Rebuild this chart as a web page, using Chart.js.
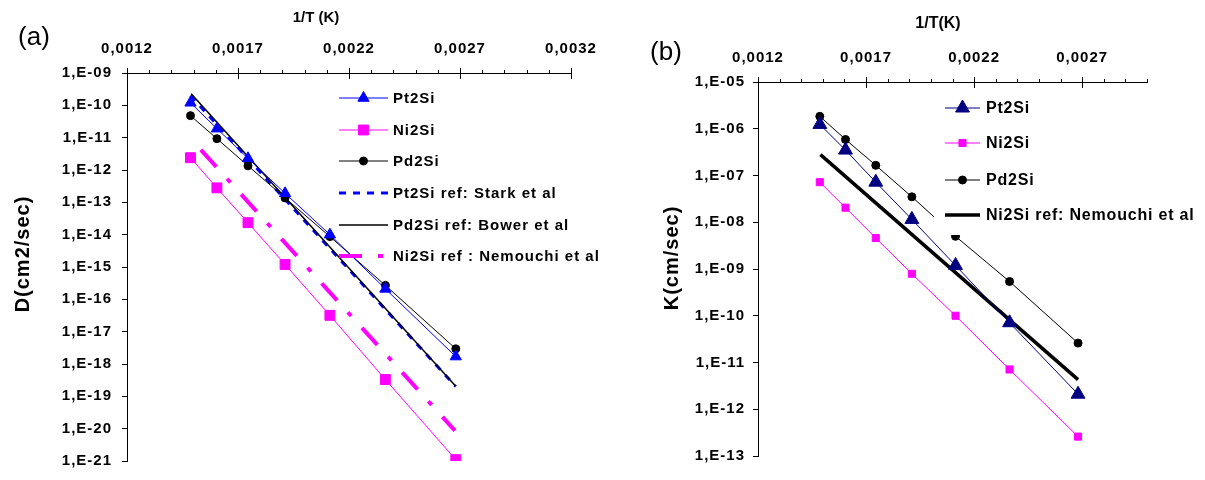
<!DOCTYPE html>
<html>
<head>
<meta charset="utf-8">
<script src="https://cdn.jsdelivr.net/npm/chart.js@4.4.1/dist/chart.umd.min.js"></script>
<style>
  html, body { margin: 0; padding: 0; background: #fff; }
  #chartA { position: absolute; left: 0; top: 0; }
  #chartB { position: absolute; left: 620px; top: 0; }
</style>
</head>
<body>
<canvas id="chartA" width="620" height="480"></canvas>
<canvas id="chartB" width="585" height="480"></canvas>
<script>
// 1/T (1/K) for 400, 350, 300, 250, 200, 150 and 100 C
const invT = [0.001486, 0.001605, 0.001745, 0.001912, 0.002114, 0.002364, 0.002681];

// (a) D (cm2/sec)
const dPt2Si = [1.2e-10, 1.9e-11, 2.3e-12, 1.9e-13, 1.0e-14, 2.1e-16, 1.7e-18];
const dNi2Si = [2.4e-12, 2.8e-13, 2.35e-14, 1.2e-15, 3.2e-17, 3.3e-19, 1.1e-21];
const dPd2Si = [4.8e-11, 9.3e-12, 1.35e-12, 1.37e-13, 8.7e-15, 2.7e-16, 2.95e-18];
// literature lines (a): [start, end]
const starkX = [0.001486, 0.002681];
const starkD = [2.0e-10, 2.0e-19];
const bowerX = [0.001489, 0.002680];
const bowerD = [2.3e-10, 2.07e-19];
const nemouchiAX = [0.001533, 0.002677];
const nemouchiAD = [4.2e-12, 8.7e-21];

// (b) K (cm/sec)
const kPt2Si = [1.24e-6, 3.5e-7, 7.2e-8, 1.15e-8, 1.19e-9, 7.1e-11, 2.1e-12];
const kNi2Si = [7.2e-8, 2.05e-8, 4.6e-9, 7.9e-10, 1.0e-10, 7.1e-12, 2.6e-13];
const kPd2Si = [1.84e-6, 5.9e-7, 1.65e-7, 3.5e-8, 5.0e-9, 5.4e-10, 2.6e-11];
const nemouchiBX = [0.001489, 0.002681];
const nemouchiBK = [2.8e-7, 4.3e-12];

// axis ticks
const xTicksA = [0.0012, 0.0017, 0.0022, 0.0027, 0.0032];
const xTicksB = [0.0012, 0.0017, 0.0022, 0.0027];
const yTicksA = [1e-9, 1e-10, 1e-11, 1e-12, 1e-13, 1e-14, 1e-15, 1e-16, 1e-17, 1e-18, 1e-19, 1e-20, 1e-21];
const yTicksB = [1e-5, 1e-6, 1e-7, 1e-8, 1e-9, 1e-10, 1e-11, 1e-12, 1e-13];

Chart.defaults.font.family = 'Arial, "Liberation Sans", sans-serif';
Chart.defaults.color = '#000';

const pts = (xs, ys) => xs.map((x, i) => ({ x: x, y: ys[i] }));
const fmtX = v => v.toFixed(4).replace('.', ',');
const fmtY = v => {
  const e = Math.round(Math.log10(v));
  return '1,E' + (e < 0 ? '-' : '+') + String(Math.abs(e)).padStart(2, '0');
};

function makeScales(o) {
  return {
    x: {
      type: 'linear', position: 'top', min: o.xMin, max: o.xMax,
      afterBuildTicks: axis => { axis.ticks = o.xTicks.map(v => ({ value: v })); },
      afterFit: s => { s.height = o.top; },
      grid: { drawOnChartArea: false, tickLength: 5, color: '#000' },
      border: { display: true, color: '#000', width: 1 },
      ticks: { padding: 10, autoSkip: false, maxRotation: 0,
               font: { size: 15, weight: 'bold' }, callback: v => fmtX(v) }
    },
    y: {
      type: 'logarithmic', position: 'left', min: o.yMin, max: o.yMax,
      afterBuildTicks: axis => { axis.ticks = o.yTicks.map(v => ({ value: v })); },
      afterFit: s => { s.width = o.left; },
      grid: { drawOnChartArea: false, tickLength: 5, color: '#000' },
      border: { display: true, color: '#000', width: 1 },
      ticks: { padding: o.yPad, autoSkip: false,
               font: { size: 15, weight: 'bold' }, callback: v => fmtY(v) }
    }
  };
}

// minor ticks above the top axis, major ticks crossing it
const tickMarks = {
  id: 'tickMarks',
  beforeDraw(chart) { chart.ctx.letterSpacing = '1px'; },
  afterDraw(chart) {
    const ctx = chart.ctx, x = chart.scales.x, top = chart.chartArea.top;
    const n = Math.round((x.max - x.min) / 0.0001);
    ctx.save();
    ctx.strokeStyle = '#000';
    ctx.lineWidth = 1;
    ctx.beginPath();
    for (let i = 1; i <= n; i++) {
      const px = Math.round(x.getPixelForValue(x.min + i * 0.0001)) + 0.5;
      ctx.moveTo(px, top);
      ctx.lineTo(px, top - 3);
    }
    x.ticks.forEach(t => {
      if (t.value <= x.min) return;
      const px = Math.round(x.getPixelForValue(t.value)) + 0.5;
      ctx.moveTo(px, top);
      ctx.lineTo(px, top + 6);
    });
    ctx.stroke();
    ctx.restore();
  }
};

// panel letter and axis titles
const labels = {
  id: 'labels',
  afterDraw(chart, args, o) {
    const ctx = chart.ctx;
    ctx.save();
    ctx.fillStyle = '#000';
    ctx.textAlign = 'center';
    ctx.textBaseline = 'middle';
    ctx.font = '26px Arial, "Liberation Sans", sans-serif';
    ctx.letterSpacing = '0px';
    ctx.fillText(o.panel, o.panelX, o.panelY);
    ctx.font = 'bold ' + o.xTitleSize + 'px Arial, "Liberation Sans", sans-serif';
    ctx.fillText(o.xTitle, o.xTitleX, o.xTitleY);
    ctx.translate(o.yTitleX, o.yTitleY);
    ctx.rotate(-Math.PI / 2);
    ctx.letterSpacing = '1px';
    ctx.font = 'bold ' + o.yTitleSize + 'px Arial, "Liberation Sans", sans-serif';
    ctx.fillText(o.yTitle, 0, 0);
    ctx.restore();
  }
};

// legend drawn inside the plot
const sideLegend = {
  id: 'sideLegend',
  afterDatasetsDraw(chart, args, o) {
    const ctx = chart.ctx;
    ctx.save();
    if (o.box) {
      ctx.fillStyle = '#fff';
      ctx.fillRect(o.box[0], o.box[1], o.box[2], o.box[3]);
    }
    chart.data.datasets.forEach((ds, i) => {
      const y = o.ys[i];
      ctx.strokeStyle = ds.borderColor;
      ctx.lineWidth = ds.borderWidth;
      ctx.setLineDash(ds.borderDash || []);
      ctx.beginPath();
      ctx.moveTo(o.x0, y);
      ctx.lineTo(o.x1, y);
      ctx.stroke();
      ctx.setLineDash([]);
      if (ds.pointRadius > 0) {
        ctx.fillStyle = ds.pointBackgroundColor;
        ctx.strokeStyle = ds.pointBorderColor;
        ctx.lineWidth = 1;
        Chart.helpers.drawPoint(ctx, { pointStyle: ds.pointStyle, radius: ds.pointRadius, rotation: 0, borderWidth: 1 },
          (o.x0 + o.x1) / 2, y);
      }
      ctx.fillStyle = '#000';
      ctx.font = 'bold ' + o.size + 'px Arial, "Liberation Sans", sans-serif';
      ctx.letterSpacing = o.spacing;
      ctx.textAlign = 'left';
      ctx.textBaseline = 'middle';
      ctx.fillText(ds.label, o.textX, y + 1);
    });
    ctx.restore();
  }
};

function series(label, data, color, style, radius, width, dash, order) {
  return {
    label: label, data: data, showLine: true, order: order || 0,
    borderColor: color, borderWidth: width, borderDash: dash || [],
    pointStyle: style || 'circle', pointRadius: radius, pointHoverRadius: radius,
    pointBackgroundColor: color, pointBorderColor: color, pointBorderWidth: 1
  };
}

new Chart(document.getElementById('chartA'), {
  type: 'scatter',
  data: {
    datasets: [
      series('Pt2Si', pts(invT, dPt2Si), '#0000ff', 'triangle', 6.5, 1),
      series('Ni2Si', pts(invT, dNi2Si), '#ff00ff', 'rect', 7, 1),
      series('Pd2Si', pts(invT, dPd2Si), '#000000', 'circle', 4, 1),
      series('Pt2Si ref: Stark et al', pts(starkX, starkD), '#0000ff', 'circle', 0, 3, [7, 7], 1),
      series('Pd2Si ref: Bower et al', pts(bowerX, bowerD), '#000000', 'circle', 0, 1.5),
      series('Ni2Si ref : Nemouchi et al', pts(nemouchiAX, nemouchiAD), '#ff00ff', 'circle', 0, 4, [23, 16, 5, 16])
    ]
  },
  options: {
    responsive: false, animation: false,
    layout: { padding: { left: 0, top: 0, right: 49, bottom: 11 } },
    scales: makeScales({ xMin: 0.0012, xMax: 0.0032, xTicks: xTicksA, yMin: 1e-21, yMax: 1e-9,
                         yTicks: yTicksA, top: 73, left: 127, yPad: 10 }),
    plugins: {
      legend: { display: false }, tooltip: { enabled: false },
      sideLegend: { x0: 339, x1: 388, textX: 393, size: 15, spacing: '1px',
                    ys: [98, 130, 161, 193, 225, 256] },
      labels: { panel: '(a)', panelX: 34, panelY: 38,
                xTitle: '1/T (K)', xTitleX: 316, xTitleY: 18, xTitleSize: 15,
                yTitle: 'D(cm2/sec)', yTitleX: 23, yTitleY: 254, yTitleSize: 20 }
    }
  },
  plugins: [tickMarks, labels, sideLegend]
});

new Chart(document.getElementById('chartB'), {
  type: 'scatter',
  data: {
    datasets: [
      series('Pt2Si', pts(invT, kPt2Si), '#000080', 'triangle', 8, 1),
      series('Ni2Si', pts(invT, kNi2Si), '#ff00ff', 'rect', 5, 1),
      series('Pd2Si', pts(invT, kPd2Si), '#000000', 'circle', 4, 1),
      series('Ni2Si ref: Nemouchi et al', pts(nemouchiBX, nemouchiBK), '#000000', 'circle', 0, 3.5)
    ]
  },
  options: {
    responsive: false, animation: false,
    layout: { padding: { left: 0, top: 0, right: 58, bottom: 24 } },
    scales: makeScales({ xMin: 0.0012, xMax: 0.003, xTicks: xTicksB, yMin: 1e-13, yMax: 1e-5,
                         yTicks: yTicksB, top: 82, left: 138, yPad: 8 }),
    plugins: {
      legend: { display: false }, tooltip: { enabled: false },
      sideLegend: { x0: 325, x1: 360, textX: 366, size: 16, spacing: '0.8px',
                    ys: [108, 143, 180, 215], box: [314, 90, 271, 145] },
      labels: { panel: '(b)', panelX: 46, panelY: 53,
                xTitle: '1/T(K)', xTitleX: 318, xTitleY: 24, xTitleSize: 16,
                yTitle: 'K(cm/sec)', yTitleX: 52, yTitleY: 258, yTitleSize: 20 }
    }
  },
  plugins: [tickMarks, labels, sideLegend]
});
</script>
</body>
</html>
